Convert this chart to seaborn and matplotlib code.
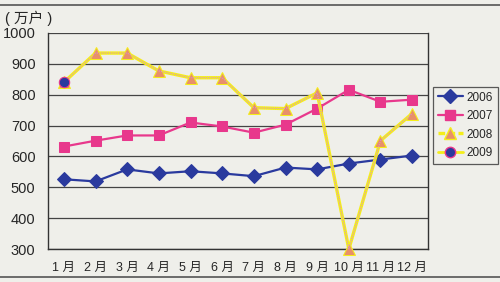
import numpy as np
import pandas as pd
import matplotlib
matplotlib.use("Agg")
import matplotlib.pyplot as plt
from matplotlib.lines import Line2D
import seaborn as sns

months = ["1 月", "2 月", "3 月", "4 月", "5 月", "6 月", "7 月", "8 月", "9 月", "10 月", "11 月", "12 月"]
v2006 = [526, 519, 558, 545, 552, 545, 536, 564, 558, 577, 590, 603]
v2007 = [632, 651, 668, 668, 710, 697, 677, 703, 755, 816, 777, 784]
v2008 = [840, 935, 935, 877, 855, 855, 758, 755, 806, 300, 651, 739]
v2009 = [840, np.nan, np.nan, np.nan, np.nan, np.nan, np.nan, np.nan, np.nan, np.nan, np.nan, np.nan]
years = ["2006", "2007", "2008", "2009"]
yticks = [300, 400, 500, 600, 700, 800, 900, 1000]

sns.set_theme(style="white")
plt.rcParams['font.family'] = ['Liberation Sans', 'Noto Sans CJK SC']

bg = "#efefea"
fig = plt.figure(figsize=(5, 2.82), dpi=100, facecolor=bg)
ax = fig.add_axes([0.096, 0.117, 0.76, 0.766], facecolor=bg)

x = np.arange(len(months))
df = pd.DataFrame({"x": np.tile(x, 4),
                   "value": v2006 + v2007 + v2008 + v2009,
                   "year": np.repeat(years, len(months))})

blue = "#2a3a9e"
pink = "#e8388c"
yellow = "#f4ee1a"
orange = "#e8906a"

d06 = df[df.year == "2006"]
d07 = df[df.year == "2007"]
d08 = df[df.year == "2008"]
d09 = df[df.year == "2009"].dropna()

sns.lineplot(data=d06, x="x", y="value", ax=ax, color=blue, lw=1.6, clip_on=False,
             marker="D", markersize=7, markerfacecolor=blue, markeredgecolor=blue, zorder=4)
sns.lineplot(data=d07, x="x", y="value", ax=ax, color=pink, lw=1.6, clip_on=False,
             marker="s", markersize=6.5, markerfacecolor=pink, markeredgecolor=pink, zorder=4)
sns.lineplot(data=d08, x="x", y="value", ax=ax, color=yellow, lw=2.4, clip_on=False,
             marker="^", markersize=8, markerfacecolor=orange, markeredgecolor=yellow, zorder=5)
sns.lineplot(data=d08, x="x", y="value", ax=ax, color="#d890d0", lw=0.8, ls=(0, (1, 1)),
             clip_on=False, zorder=5)
sns.lineplot(data=d09, x="x", y="value", ax=ax, color=yellow, lw=2.0, clip_on=False,
             marker="o", markersize=7.5, markerfacecolor=blue, markeredgecolor=pink, zorder=6)

ax.set_xlim(-0.5, 11.5)
ax.set_ylim(300, 1000)
ax.set_yticks(yticks)
ax.set_yticklabels([str(t) for t in yticks], fontsize=10.5)
ax.set_xticks(x)
ax.set_xticklabels(months, fontsize=9)
ax.set_xticks(np.arange(0.5, 11.5, 1), minor=True)
ax.tick_params(axis="x", which="major", length=0, pad=9)
ax.tick_params(axis="x", which="minor", length=4, direction="in", color="#333333", width=0.8)
ax.tick_params(axis="y", length=0, pad=9)
ax.set_xlabel("")
ax.set_ylabel("")
ax.grid(axis="y", color="#444444", lw=0.9)
ax.grid(axis="x", visible=False)
for s in ["left", "bottom", "right"]:
    ax.spines[s].set_color("#333333")
    ax.spines[s].set_linewidth(1.0)
ax.spines["top"].set_visible(False)
if ax.get_legend():
    ax.get_legend().remove()

handles = [
    Line2D([], [], color=blue, lw=1.6, marker="D", markersize=7, markerfacecolor=blue, markeredgecolor=blue),
    Line2D([], [], color=pink, lw=1.6, marker="s", markersize=6.5, markerfacecolor=pink, markeredgecolor=pink),
    Line2D([], [], color=yellow, lw=2.4, ls=(0, (2, 1)), marker="^", markersize=8, markerfacecolor=orange, markeredgecolor=yellow),
    Line2D([], [], color=yellow, lw=2.0, marker="o", markersize=7.5, markerfacecolor=blue, markeredgecolor=pink),
]
leg = fig.legend(handles, years, loc="upper left", bbox_to_anchor=(0.866, 0.692),
                 frameon=True, fancybox=False, fontsize=8.5, handlelength=2.1,
                 labelspacing=0.55, borderpad=0.4, handletextpad=0.35, borderaxespad=0)
leg.get_frame().set_edgecolor("#333333")
leg.get_frame().set_facecolor(bg)
leg.get_frame().set_linewidth(0.9)

fig.text(0.01, 0.935, "( 万户 )", fontsize=10.5, ha="left", va="center")
fig.add_artist(Line2D([0, 1], [0.983, 0.983], color="#555555", lw=1.2, transform=fig.transFigure))
fig.add_artist(Line2D([0, 1], [0.018, 0.018], color="#555555", lw=1.2, transform=fig.transFigure))

fig.savefig("out.png", dpi=100, facecolor=bg)
